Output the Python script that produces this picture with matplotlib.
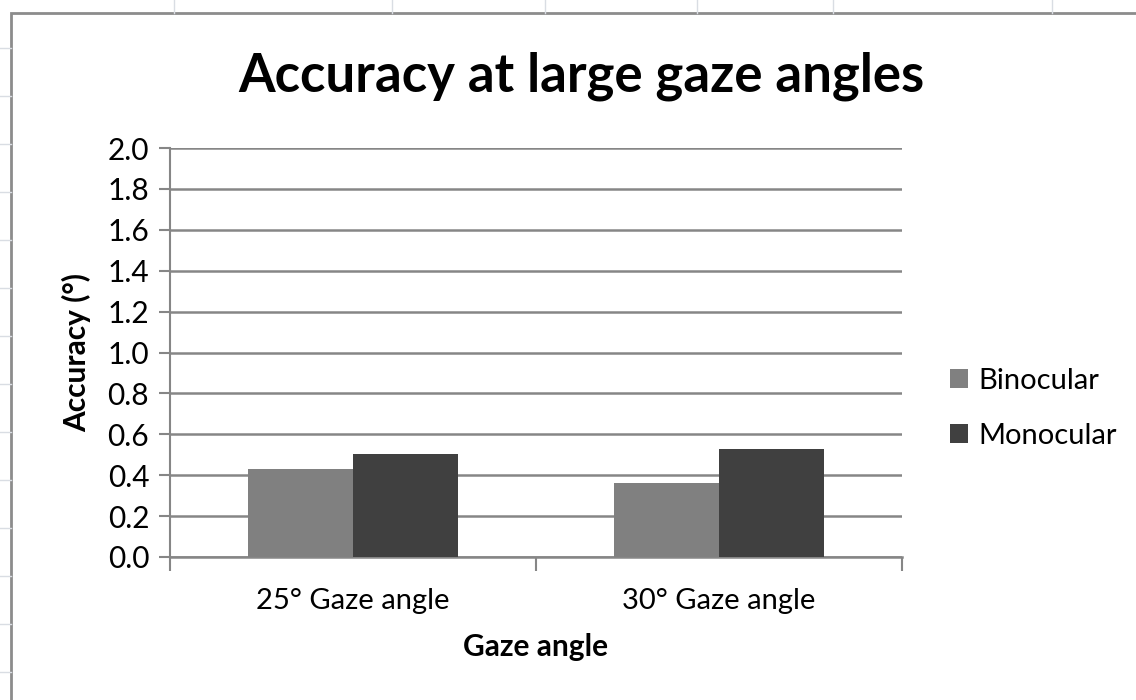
import numpy as np
import matplotlib
matplotlib.use('Agg')
import matplotlib.pyplot as plt
from matplotlib.patches import Rectangle
from matplotlib.lines import Line2D

# dados
categories = ['25° Gaze angle', '30° Gaze angle']
binocular = [0.43, 0.36]
monocular = [0.505, 0.53]
series_names = ['Binocular', 'Monocular']
y_ticks = [0.0, 0.2, 0.4, 0.6, 0.8, 1.0, 1.2, 1.4, 1.6, 1.8, 2.0]

plt.rcParams['font.family'] = ['Lato', 'DejaVu Sans']

fig = plt.figure(figsize=(11.36, 7.0), dpi=100)

# linhas da planilha atrás do gráfico
grid_col = '#d9dde3'
for xp in [174, 392, 545, 697, 833, 1052]:
    fig.add_artist(Line2D([xp / 1136, xp / 1136], [1, 1 - 13 / 700], color=grid_col, lw=1))
for yp in range(48, 700, 48):
    fig.add_artist(Line2D([0, 11 / 1136], [1 - yp / 700, 1 - yp / 700], color=grid_col, lw=1))

# borda da área do gráfico
fig.add_artist(Rectangle((11 / 1136, -0.01), 1.2, 1 - 13 / 700 + 0.01,
                         transform=fig.transFigure, fill=False, edgecolor='#8c8c8c', lw=2))

ax = fig.add_axes([170 / 1136, 1 - 557 / 700, 732 / 1136, 409 / 700])

x = np.arange(len(categories))
w = 1 / 3.5
ax.bar(x - w / 2, binocular, width=w, color='#808080', label=series_names[0], zorder=3)
ax.bar(x + w / 2, monocular, width=w, color='#404040', label=series_names[1], zorder=3)

ax.set_xlim(-0.5, 1.5)
ax.set_ylim(0, 2.0)
ax.set_yticks(y_ticks)
ax.set_yticklabels([f'{v:.1f}' for v in y_ticks])
ax.set_xticks(x)
ax.set_xticklabels(categories)
ax.set_xticks([-0.5, 0.5, 1.5], minor=True)
ax.tick_params(axis='x', which='major', length=0, labelsize=21, pad=22)
ax.tick_params(axis='x', which='minor', length=10, width=1.5, color='#868686')
ax.tick_params(axis='y', length=8, width=1.5, color='#868686', labelsize=21.5, pad=7)
ax.yaxis.grid(True, color='#868686', lw=1.8, zorder=0)

for s in ['top', 'right']:
    ax.spines[s].set_visible(False)
ax.spines['left'].set_color('#868686')
ax.spines['left'].set_linewidth(1.5)
ax.spines['bottom'].set_color('#868686')
ax.spines['bottom'].set_linewidth(1.8)

ax.set_ylabel('Accuracy (°)', fontsize=21.5, fontweight='bold', labelpad=12)
ax.set_xlabel('Gaze angle', fontsize=21.5, fontweight='bold', labelpad=14)

fig.text(581 / 1136, 1 - 76 / 700, 'Accuracy at large gaze angles', fontsize=38,
         fontweight='bold', ha='center', va='center')

ax.legend(loc='center left', bbox_to_anchor=(1.05, 0.364), frameon=False, fontsize=21,
          handlelength=0.6, handleheight=0.6, handletextpad=0.35, labelspacing=1.0,
          borderaxespad=0)

fig.savefig('out.png', dpi=100)
